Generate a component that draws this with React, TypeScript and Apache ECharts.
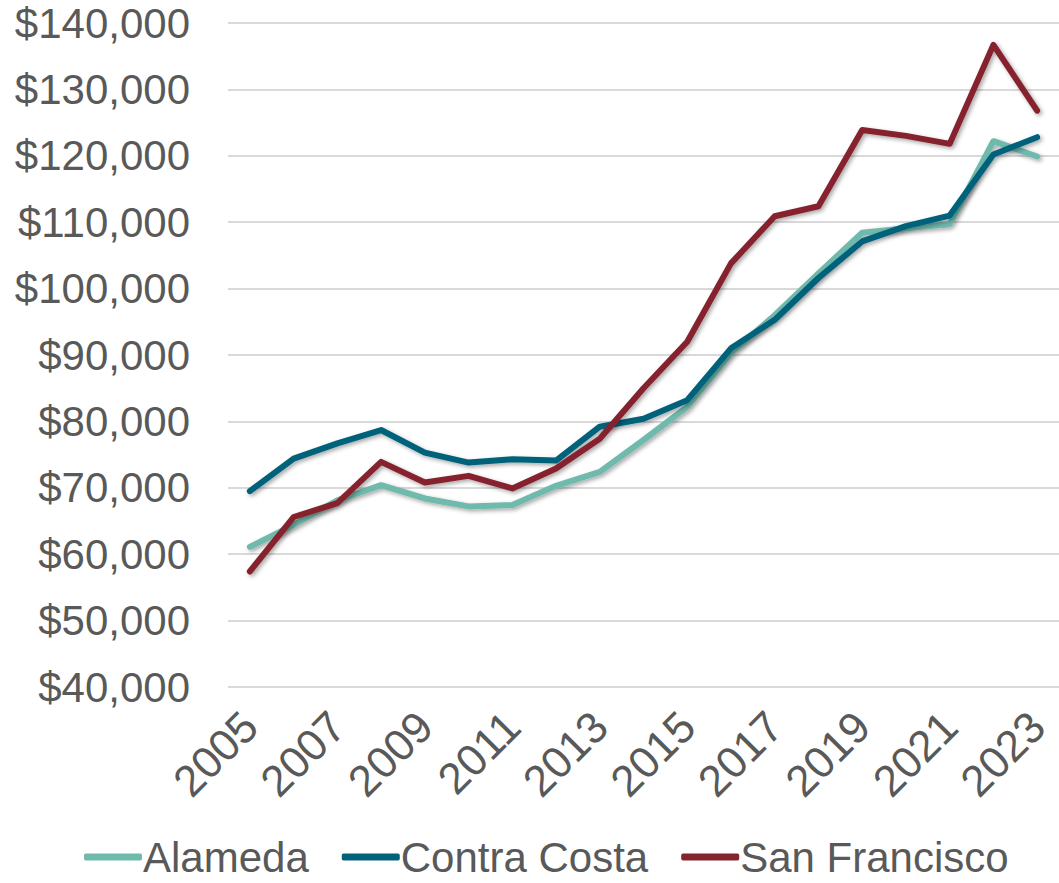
import React, { useEffect, useRef } from "react";
import * as echarts from "echarts";

const years = ["2005","2006","2007","2008","2009","2010","2011","2012","2013","2014","2015","2016","2017","2018","2019","2020","2021","2022","2023"];
const alameda = [61100, 64400, 68100, 70400, 68400, 67200, 67400, 70300, 72400, 77200, 82200, 90300, 96000, 102300, 108400, 109100, 109700, 122200, 119900];
const contraCosta = [69500, 74400, 76700, 78700, 75300, 73800, 74300, 74100, 79200, 80400, 83200, 91000, 95300, 101600, 107100, 109400, 111000, 120200, 122800];
const sanFrancisco = [57400, 65600, 67700, 73900, 70800, 71800, 69900, 72900, 77400, 85000, 92000, 103800, 110900, 112400, 123900, 123000, 121800, 136700, 126800];

const FONT = "Liberation Sans, Arial, sans-serif";
const TXT = "#595959";

export default function App() {
  const ref = useRef<HTMLDivElement>(null);
  useEffect(() => {
    if (!ref.current) return;
    const chart = echarts.init(ref.current, null, { renderer: "svg" });
    const mk = (name: string, data: number[], color: string) => ({
      name,
      type: "line",
      data,
      symbol: "none",
      lineStyle: {
        color,
        width: 6,
        cap: "round",
        join: "round",
        shadowColor: "rgba(0,0,0,0.35)",
        shadowBlur: 4,
        shadowOffsetX: 2,
        shadowOffsetY: 2,
      },
      itemStyle: { color },
    });
    chart.setOption({
      animation: false,
      textStyle: { fontFamily: FONT },
      grid: { left: 228, right: -8, top: 23, bottom: 196, containLabel: false },
      xAxis: {
        type: "category",
        data: years,
        boundaryGap: true,
        axisLine: { show: false },
        axisTick: { show: false },
        axisLabel: {
          interval: 1,
          rotate: 45,
          fontSize: 44,
          color: TXT,
          fontFamily: FONT,
          margin: 32,
        },
      },
      yAxis: {
        type: "value",
        min: 40000,
        max: 140000,
        interval: 10000,
        axisLine: { show: false },
        axisTick: { show: false },
        axisLabel: {
          fontSize: 42,
          color: TXT,
          fontFamily: FONT,
          margin: 38,
          formatter: (v: number) => "$" + v.toLocaleString("en-US"),
        },
        splitLine: { lineStyle: { color: "#d9d9d9", width: 2 } },
      },
      legend: {
        left: 79,
        top: 831,
        itemWidth: 58,
        itemHeight: 7,
        itemGap: 33,
        icon: "roundRect",
        textStyle: { fontSize: 42, color: TXT, fontFamily: FONT, padding: [0, 0, 0, -4] },
        data: ["Alameda", "Contra Costa", "San Francisco"],
      },
      series: [
        mk("Alameda", alameda, "#70b9ad"),
        mk("Contra Costa", contraCosta, "#02627a"),
        mk("San Francisco", sanFrancisco, "#85232f"),
      ],
    });
    return () => chart.dispose();
  }, []);
  return (
    <div
      ref={ref}
      style={{ position: "fixed", left: 0, top: 0, width: 1059, height: 883, background: "#fff" }}
    />
  );
}
